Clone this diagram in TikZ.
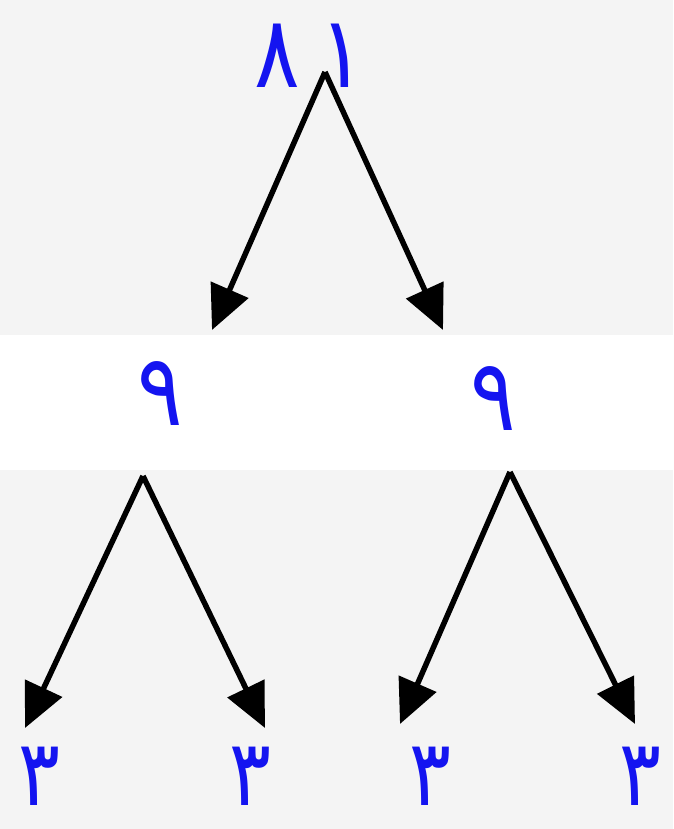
\documentclass[tikz,border=0pt]{standalone}
\usepackage{fontspec}
\newfontfamily\arabicfont[Script=Arabic]{DejaVu Sans}
\usetikzlibrary{arrows.meta}
\definecolor{bg}{HTML}{F4F4F4}
\definecolor{digit}{HTML}{1414F0}
\tikzset{
  num/.style={text=digit, font=\arabicfont\fontsize{100}{100}\selectfont, inner sep=0pt, anchor=base},
  smallnum/.style={num, font=\arabicfont\fontsize{92}{92}\selectfont},
  arr/.style={line width=5.5pt, black, -{Triangle[length=44pt,width=40pt]}}
}
\newcommand{\narrow}[1]{\scalebox{0.85}[1]{#1}}
\begin{document}
\begin{tikzpicture}[x=1pt,y=-1pt]
\useasboundingbox (0,0) rectangle (673,829);
\fill[bg] (0,0) rectangle (673,829);
\fill[white] (0,335) rectangle (673,470);
% numbers
\node[num] (n81) at (310,88) {\narrow{٨\hspace{22pt}١}};
\node[num] (l9) at (160,425) {\narrow{٩}};
\node[num] (r9) at (493,430) {\narrow{٩}};
\node[smallnum] (a3) at (40,805) {\narrow{٣}};
\node[smallnum] (b3) at (250,805) {\narrow{٣}};
\node[smallnum] (c3) at (430,805) {\narrow{٣}};
\node[smallnum] (d3) at (640,805) {\narrow{٣}};
% connector points
\coordinate (t0) at (325,72);
\coordinate (e1) at (212,330);
\coordinate (e2) at (443,330);
\coordinate (t1) at (143,476);
\coordinate (e3) at (25,728);
\coordinate (e4) at (265,728);
\coordinate (t2) at (510,472);
\coordinate (e5) at (400,724);
\coordinate (e6) at (635,724);
\draw[arr] (t0) -- (e1);
\draw[arr] (t0) -- (e2);
\draw[arr] (t1) -- (e3);
\draw[arr] (t1) -- (e4);
\draw[arr] (t2) -- (e5);
\draw[arr] (t2) -- (e6);
\end{tikzpicture}
\end{document}
